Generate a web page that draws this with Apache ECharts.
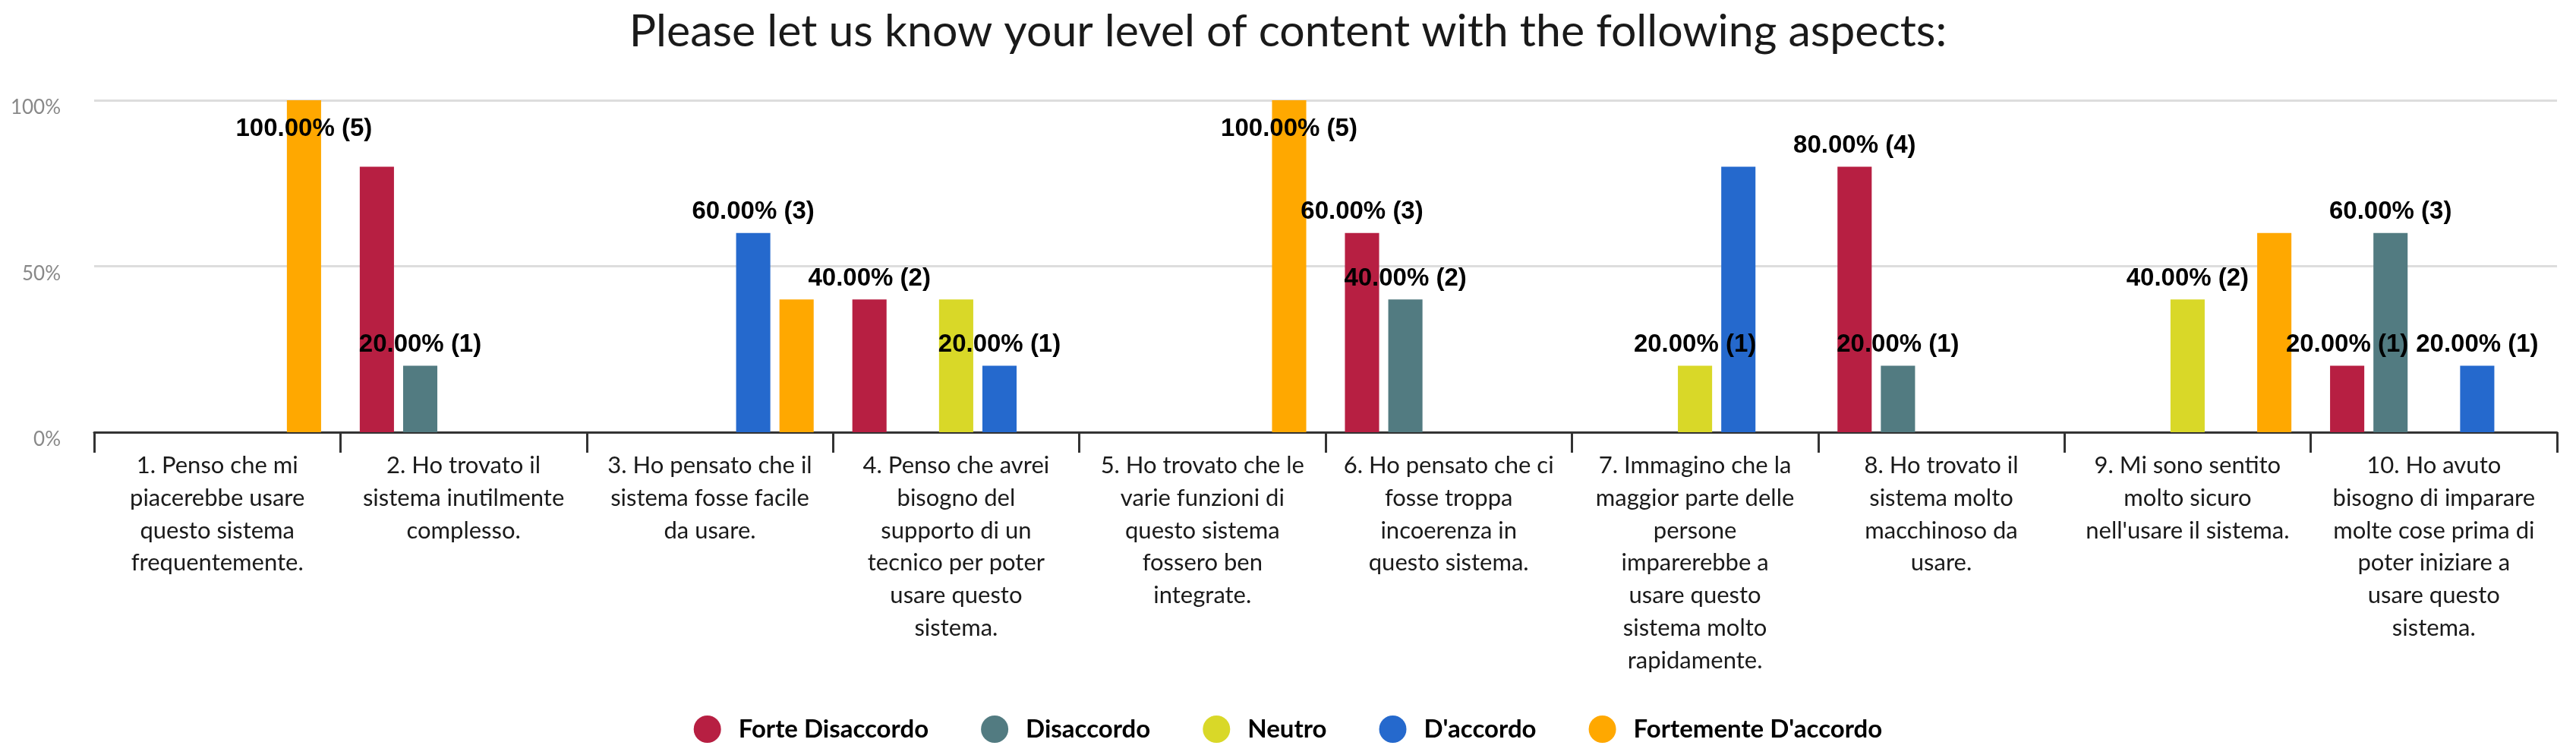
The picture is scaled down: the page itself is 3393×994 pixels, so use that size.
<!DOCTYPE html>
<html>
<head>
<meta charset="utf-8">
<script src="https://cdn.jsdelivr.net/npm/echarts@6/dist/echarts.min.js"></script>
<style>
html,body{margin:0;padding:0;background:#fff;}
#chart{width:3393px;height:994px;}
</style>
</head>
<body>
<div id="chart"></div>
<script>
const titleText = 'Please let us know your level of content with the following aspects:';
const categories = [
  '1. Penso che mi\npiacerebbe usare\nquesto sistema\nfrequentemente.',
  '2. Ho trovato il\nsistema inutilmente\ncomplesso.',
  '3. Ho pensato che il\nsistema fosse facile\nda usare.',
  '4. Penso che avrei\nbisogno del\nsupporto di un\ntecnico per poter\nusare questo\nsistema.',
  '5. Ho trovato che le\nvarie funzioni di\nquesto sistema\nfossero ben\nintegrate.',
  '6. Ho pensato che ci\nfosse troppa\nincoerenza in\nquesto sistema.',
  '7. Immagino che la\nmaggior parte delle\npersone\nimparerebbe a\nusare questo\nsistema molto\nrapidamente.',
  '8. Ho trovato il\nsistema molto\nmacchinoso da\nusare.',
  "9. Mi sono sentito\nmolto sicuro\nnell'usare il sistema.",
  '10. Ho avuto\nbisogno di imparare\nmolte cose prima di\npoter iniziare a\nusare questo\nsistema.'
];
const seriesNames = ['Forte Disaccordo', 'Disaccordo', 'Neutro', "D'accordo", "Fortemente D'accordo"];
const respondents = 5;
// counts of answers per category
const forteDisaccordo     = [0, 4, 0, 2, 0, 3, 0, 4, 0, 1];
const disaccordo          = [0, 1, 0, 0, 0, 2, 0, 1, 0, 3];
const neutro              = [0, 0, 0, 2, 0, 0, 1, 0, 2, 0];
const daccordo            = [0, 0, 3, 1, 0, 0, 4, 0, 0, 1];
const fortementeDaccordo  = [5, 0, 2, 0, 5, 0, 0, 0, 3, 0];
const yTicks = [0, 50, 100];

const seriesCounts = [forteDisaccordo, disaccordo, neutro, daccordo, fortementeDaccordo];
const colors = ['#b71f42', '#527b81', '#d9d828', '#2569cd', '#ffa800'];

const yMax = yTicks[yTicks.length - 1];

const series = seriesCounts.map((counts, si) => ({
  name: seriesNames[si],
  type: 'bar',
  barGap: '26.7%',
  barCategoryGap: '15.7%',
  itemStyle: { color: colors[si] },
  label: {
    show: true,
    position: 'top',
    distance: 11,
    fontFamily: 'Liberation Sans',
    fontWeight: 'bold',
    fontSize: 33,
    color: '#000',
    formatter: p => p.data.value.toFixed(2) + '% (' + p.data.count + ')'
  },
  labelLayout: { hideOverlap: true },
  data: counts.map(c => {
    const v = c / respondents * 100;
    const item = { value: v, count: c };
    if (c === 0) item.label = { show: false };
    else if (v >= yMax) item.label = { position: 'insideTop', distance: 21 };
    return item;
  })
}));

const chart = echarts.init(document.getElementById('chart'), null, { renderer: 'canvas' });
chart.setOption({
  animation: false,
  backgroundColor: '#fff',
  color: colors,
  title: {
    text: titleText,
    left: 'center',
    top: 7,
    textStyle: { fontFamily: 'Lato', fontWeight: 'normal', fontSize: 59, color: '#1a1a1a' }
  },
  legend: {
    data: seriesNames,
    left: 'center',
    top: 937,
    icon: 'circle',
    itemWidth: 36,
    itemHeight: 36,
    itemGap: 69,
    textStyle: { fontFamily: 'Lato', fontWeight: 'bold', fontSize: 33, color: '#000', padding: [0, 0, 0, 18] }
  },
  grid: { left: 124, right: 25, top: 132, bottom: 425, containLabel: false },
  xAxis: {
    type: 'category',
    data: categories,
    axisLine: { lineStyle: { color: '#333', width: 3 } },
    axisTick: { show: true, length: 27, lineStyle: { color: '#333', width: 3 } },
    axisLabel: {
      interval: 0,
      margin: 23,
      fontFamily: 'Lato',
      fontSize: 31,
      lineHeight: 42.7,
      color: '#1a1a1a',
      align: 'center'
    }
  },
  yAxis: {
    type: 'value',
    min: yTicks[0],
    max: yMax,
    interval: yTicks[1] - yTicks[0],
    axisLine: { show: false },
    axisTick: { show: false },
    splitLine: { lineStyle: { color: '#dddddd', width: 3 } },
    axisLabel: {
      formatter: '{value}%',
      margin: 44,
      fontFamily: 'Lato',
      fontSize: 26,
      color: '#888',
      verticalAlign: 'top',
      lineHeight: 20
    }
  },
  series: series
});
</script>
</body>
</html>
